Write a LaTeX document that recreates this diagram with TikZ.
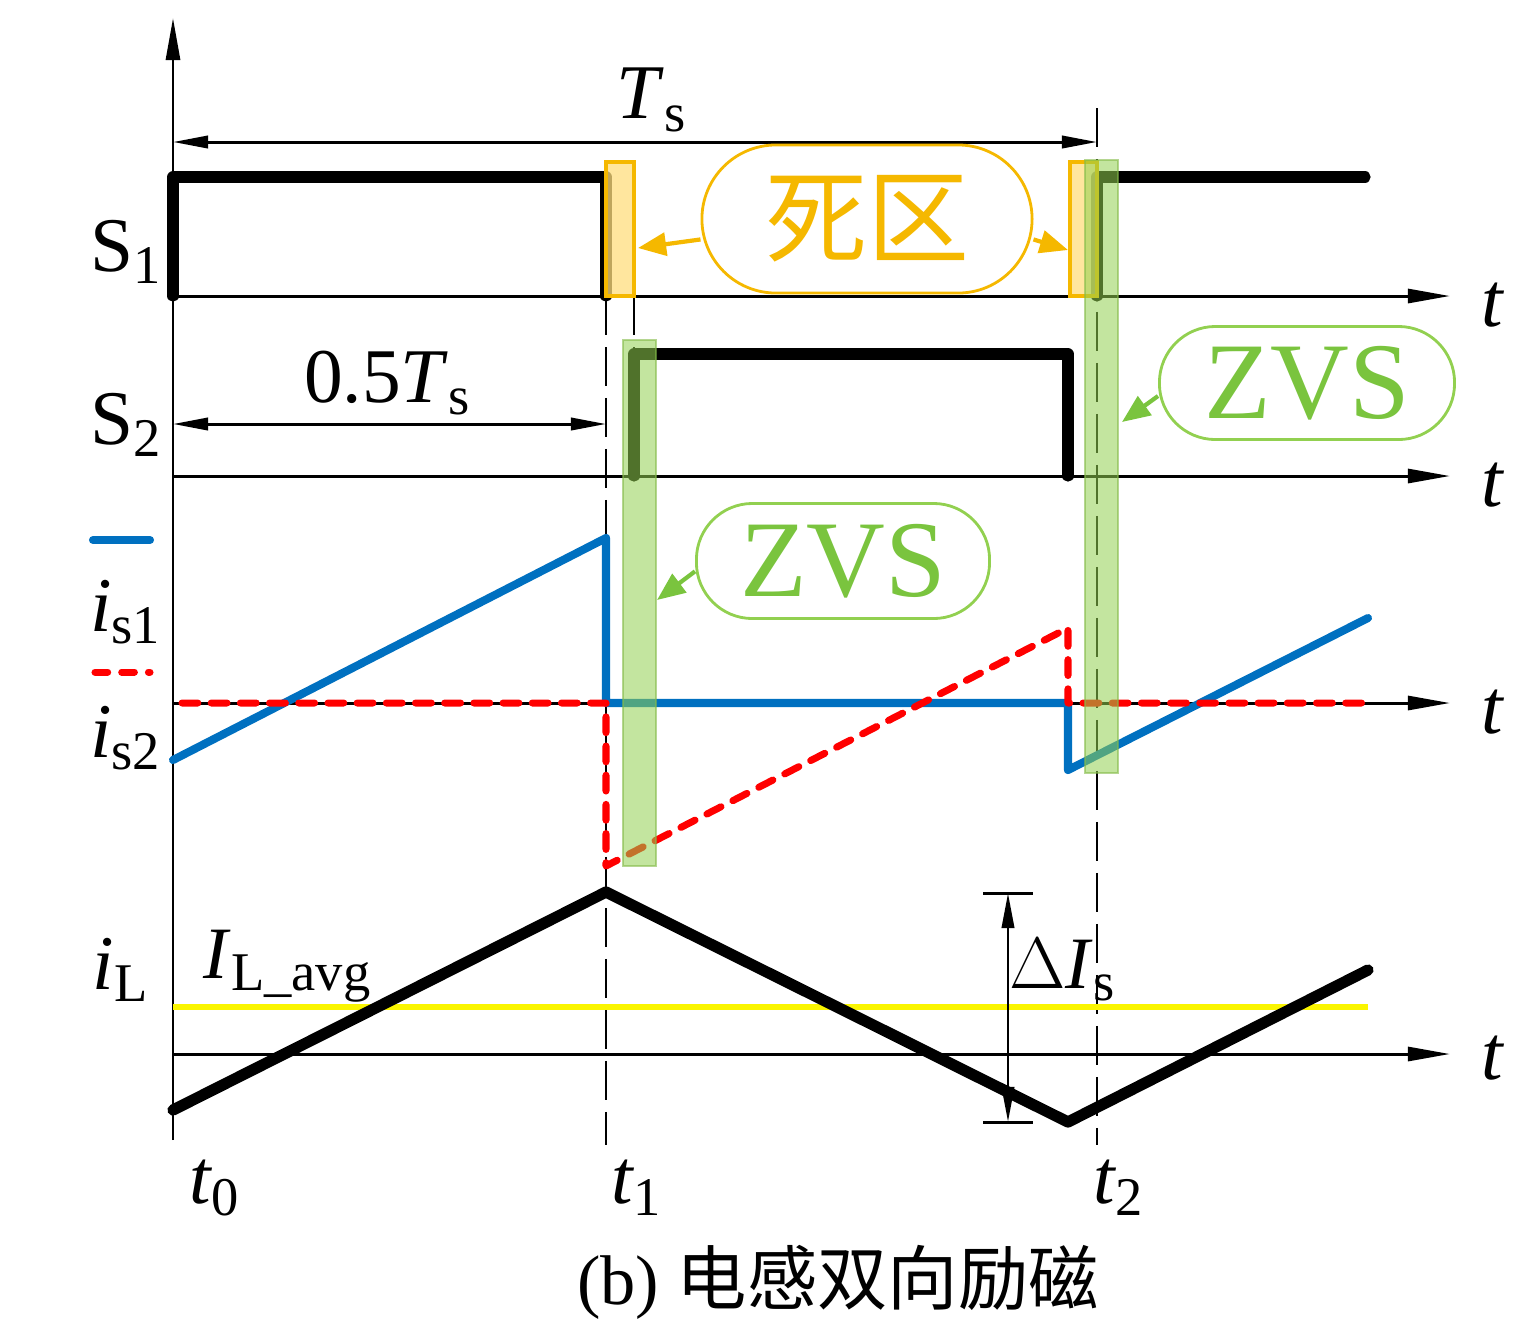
\documentclass[tikz,border=0pt]{standalone}
\usepackage{fontspec}
\setmainfont{Liberation Serif}
\newfontfamily\cjkfont{Noto Sans CJK SC}
\usepackage{tikz}
\usetikzlibrary{math,arrows.meta}
\definecolor{deadorange}{RGB}{245,184,0}
\definecolor{deadfill}{RGB}{255,222,125}
\definecolor{zvsgreen}{RGB}{122,196,62}
\definecolor{zvsline}{RGB}{146,208,80}
\definecolor{isblue}{RGB}{0,112,192}
\definecolor{isred}{RGB}{255,0,0}
\definecolor{avgyellow}{RGB}{250,245,0}
\newcommand{\wavesub}[2]{#1\raisebox{-3.5pt}{\fontsize{15.5}{15.5}\selectfont #2}}
\tikzset{
  axis/.style = {line width=0.85pt, -{Triangle[length=12pt,width=4pt]}},
  gate/.style = {line width=3.2pt, line join=round, line cap=round},
  guide/.style = {line width=0.8pt, dash pattern=on 11pt off 3.5pt},
  dimline/.style = {line width=0.85pt, {Triangle[length=10pt,width=3.5pt]}-{Triangle[length=10pt,width=3.5pt]}},
  deadbar/.style = {draw=deadorange, line width=0.9pt, fill=deadfill, fill opacity=0.75},
  zvsbar/.style = {draw=zvsline!90!black, line width=0.6pt, fill=zvsline, fill opacity=0.55, draw opacity=0.6},
  tag/.style = {draw, line width=0.8pt, inner sep=0pt, rounded corners=0.56cm},
  lbl/.style = {inner sep=0pt, font=\fontsize{22}{22}\selectfont},
  tlbl/.style = {inner sep=0pt, font=\fontsize{22}{22}\selectfont\itshape},
  redcur/.style = {isred, line width=2pt, line cap=round, line join=round, dash pattern=on 4.5pt off 3.8pt}
}

\begin{document}
\begin{tikzpicture}[x=0.01cm, y=-0.01cm]
    \tikzmath{
      \xO = 173;
      \tOne = 606;
      \tDead = 634;
      \tTwo = 1097;
      \tOff = 1068;
      \xEnd = 1368;
      \xArr = 1450;
      \yOne = 296;
      \yTwo = 476;
      \yCur = 703;
      \yInd = 1054;
      \yBot = 1145;
      \hiOne = 177;
      \hiTwo = 354;
    }
    \useasboundingbox (0,0) rectangle (1535,1329);
    % axes
    \draw[axis] (\xO, 1140) -- (\xO, 18);
    \foreach \yy in {\yOne, \yTwo, \yCur, \yInd}
      \draw[axis] (\xO, \yy) -- (\xArr, \yy);
    \foreach \yy/\ny in {305/tA, 485/tB, 712/tC, 1058/tD}
      \node[tlbl] (\ny) at (1492, \yy) {t};
    % time marks
    \draw[guide] (\tOne, \yOne) -- (\tOne, \yBot);
    \draw[guide] (\tTwo, 108) -- (\tTwo, \yBot);
    \draw[guide] (\tDead, \yOne) -- (\tDead, \hiTwo);
    \node[tlbl] (t0) at (214, 1188) {\wavesub{t}{\upshape 0}};
    \node[tlbl] (t1) at (636, 1188) {\wavesub{t}{\upshape 1}};
    \node[tlbl] (t2) at (1118, 1188) {\wavesub{t}{\upshape 2}};
    % period dimensions
    \draw[dimline] (\xO, 142) -- (\tTwo, 142);
    \node[lbl] (Ts) at (651, 100) {\wavesub{\textit{T}}{s}};
    \draw[dimline] (\xO, 424) -- (\tOne, 424);
    \node[lbl] (halfTs) at (387, 383) {0.5\wavesub{\textit{T}}{s}};
    % gate signals
    \draw[gate] (\xO, \yOne) -- (\xO, \hiOne) -- (\tOne, \hiOne) -- (\tOne, \yOne);
    \draw[gate] (\tTwo, \yOne) -- (\tTwo, \hiOne) -- (1365, \hiOne);
    \draw[gate] (\tDead, \yTwo) -- (\tDead, \hiTwo) -- (\tOff, \hiTwo) -- (\tOff, \yTwo);
    \node[lbl] (S1) at (126, 252) {\wavesub{S}{1}};
    \node[lbl] (S2) at (126, 425) {\wavesub{S}{2}};
    % switch currents
    \draw[isblue, line width=2.3pt, line cap=round] (93, 540) -- (150, 540);
    \draw[redcur, dash pattern=on 3.6pt off 4pt] (95, 672) -- (150, 672);
    \node[lbl] (is1) at (125, 612) {\wavesub{\textit{i}}{s1}};
    \node[lbl] (is2) at (125, 738) {\wavesub{\textit{i}}{s2}};
    \draw[isblue, line width=2.3pt, line cap=round, line join=round]
      (\xO, 760) -- (\tOne, 538) -- (\tOne, \yCur) -- (\tOff, \yCur)
      -- (\tOff, 770) -- (\xEnd, 618);
    \draw[redcur]
      (182, \yCur) -- (\tOne, \yCur) -- (\tOne, 866) -- (\tOff, 628)
      -- (\tOff, \yCur) -- (\xEnd, \yCur);
    % inductor current
    \draw[avgyellow, line width=1.5pt] (\xO, 1007) -- (\xEnd, 1007);
    \draw[gate] (\xO, 1110) -- (\tOne, 892) -- (\tOff, 1122) -- (\xEnd, 970);
    \node[lbl] (iL) at (120, 970) {\wavesub{\textit{i}}{L}};
    \node[lbl, font=\fontsize{21}{21}\selectfont] (ILavg) at (287, 966) {\wavesub{\textit{I}}{L\_avg}};
    \draw[line width=0.85pt] (983, 893) -- (1033, 893);
    \draw[line width=0.85pt] (983, 1122) -- (1033, 1122);
    \draw[dimline] (1008, 893) -- (1008, 1122);
    \node[lbl, font=\fontsize{21}{21}\selectfont] (dIs) at (1062, 970) {$\Delta$\wavesub{\textit{I}}{s}};
    % dead time and ZVS windows
    \draw[deadbar] (\tOne, 162) rectangle (\tDead, \yOne);
    \draw[deadbar] (1070, 162) rectangle (\tTwo, \yOne);
    \draw[zvsbar] (623, 340) rectangle (656, 866);
    \draw[zvsbar] (1085, 160) rectangle (1118, 773);
    \node[tag, draw=deadorange, text=deadorange, minimum width=3.3cm, minimum height=1.48cm,
      rounded corners=0.74cm, font=\fontsize{29}{29}\cjkfont] (dead) at (867, 219) {死区};
    \node[tag, draw=zvsline, text=zvsgreen, minimum width=2.95cm, minimum height=1.13cm,
      font=\fontsize{31}{31}\selectfont] (zvsA) at (1307, 383) {ZVS};
    \node[tag, draw=zvsline, text=zvsgreen, minimum width=2.93cm, minimum height=1.15cm,
      font=\fontsize{31}{31}\selectfont] (zvsB) at (843, 561) {ZVS};
    \coordinate (deadL) at (638, 248);
    \coordinate (deadR) at (1068, 250);
    \coordinate (zvsTipA) at (1122, 422);
    \coordinate (zvsTipB) at (657, 600);
    \draw[deadorange, line width=1.2pt, -{Triangle[length=8pt,width=6.5pt]}] (dead.187) -- (deadL);
    \draw[deadorange, line width=1.2pt, -{Triangle[length=8pt,width=6.5pt]}] (dead.353) -- (deadR);
    \draw[zvsgreen, line width=1.2pt, -{Triangle[length=8pt,width=6.5pt]}] (zvsA.185) -- (zvsTipA);
    \draw[zvsgreen, line width=1.2pt, -{Triangle[length=8pt,width=6.5pt]}] (zvsB.184) -- (zvsTipB);
    % caption
    \node[lbl, font=\fontsize{20}{20}\selectfont] (cap) at (838, 1282) {(b) {\cjkfont 电感双向励磁}};
  \end{tikzpicture}
\end{document}
